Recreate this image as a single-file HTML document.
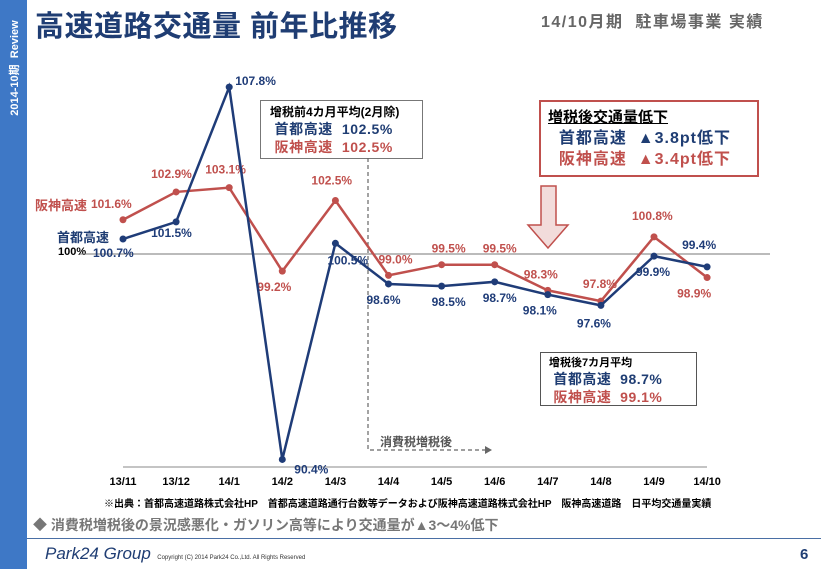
<!DOCTYPE html>
<html><head><meta charset="utf-8"><style>
body{margin:0;background:#fff}
#w{position:relative;width:821px;height:569px;overflow:hidden;font-family:"Liberation Sans","Noto Sans CJK JP",sans-serif;font-weight:bold}
.a{position:absolute;white-space:nowrap}
</style></head><body>
<div id="w">
<div class="a" style="left:0;top:0;width:27px;height:569px;background:#3e78c6"></div>
<div class="a" style="left:-38px;top:60px;width:104px;color:#fff;font-size:11px;transform:rotate(-90deg);text-align:center">2014-10期 &nbsp;Review</div>
<div class="a" style="left:35px;top:3px;font-size:29px;color:#1f3d73;letter-spacing:0.5px">高速道路交通量 前年比推移</div>
<div class="a" style="left:541px;top:8px;font-size:16px;color:#666;letter-spacing:1.5px">14/10月期 &nbsp;駐車場事業 実績</div>
<div class="a" style="left:27px;top:538px;width:794px;height:1px;background:#4a6fa5"></div>
<div class="a" style="left:45px;top:544px;font-size:17px;font-style:italic;font-weight:normal;color:#1f3d73">Park24 Group <span style="font-size:6px;font-style:normal;color:#333">&nbsp;Copyright (C) 2014 Park24 Co.,Ltd. All Rights Reserved</span></div>
<div class="a" style="left:800px;top:546px;font-size:15px;color:#1f3d73">6</div>
<div class="a" style="left:104px;top:495px;font-size:10px;color:#000">※出典：首都高速道路株式会社HP　首都高速道路通行台数等データおよび阪神高速道路株式会社HP　阪神高速道路　日平均交通量実績</div>
<div class="a" style="left:33px;top:515px;font-size:14px;color:#777">◆ 消費税増税後の景況感悪化・ガソリン高等により交通量が▲3～4%低下</div>
<div class="a" style="left:35px;top:195px;font-size:13px;color:#c0504d">阪神高速</div>
<div class="a" style="left:57px;top:227px;font-size:13px;color:#1f3d73">首都高速</div>
<div class="a" style="left:58px;top:246px;font-size:11px;color:#000">100%</div>
<div class="a" style="left:260px;top:100px;width:163px;height:59px;border:1px solid #777;background:#fff;font-size:12px;padding:3px 0 0 9px;box-sizing:border-box;line-height:17px">增税前4カ月平均(2月除)<br><span style="color:#1f3d73;font-size:14px;letter-spacing:0.6px">&nbsp;首都高速 &nbsp;102.5%</span><br><span style="color:#c0504d;font-size:14px;letter-spacing:0.6px">&nbsp;阪神高速 &nbsp;102.5%</span></div>
<div class="a" style="left:539px;top:100px;width:220px;height:77px;border:2.5px solid #c0504d;box-sizing:border-box;padding:5px 0 0 7px;font-size:15px;line-height:21px"><span style="text-decoration:underline">増税後交通量低下</span><br><span style="color:#1f3d73;font-size:16px;letter-spacing:1px">&nbsp;&nbsp;首都高速 &nbsp;▲3.8pt低下</span><br><span style="color:#c0504d;font-size:16px;letter-spacing:1px">&nbsp;&nbsp;阪神高速 &nbsp;▲3.4pt低下</span></div>
<div class="a" style="left:540px;top:352px;width:157px;height:54px;border:1px solid #555;background:#fff;font-size:11px;padding:2px 0 0 8px;box-sizing:border-box;line-height:16px">增税後7カ月平均<br><span style="color:#1f3d73;font-size:14px;letter-spacing:0.5px">&nbsp;首都高速 &nbsp;98.7%</span><br><span style="color:#c0504d;font-size:14px;letter-spacing:0.5px">&nbsp;阪神高速 &nbsp;99.1%</span></div>
<div class="a" style="left:380px;top:433px;font-size:12px;color:#555">消費税増税後</div>
<svg class="a" style="left:0;top:0" width="821" height="569" id="chart"></svg>
</div>
<script>
const categories=["13/11","13/12","14/1","14/2","14/3","14/4","14/5","14/6","14/7","14/8","14/9","14/10"];
const shuto=[100.7,101.5,107.8,90.4,100.5,98.6,98.5,98.7,98.1,97.6,99.9,99.4];
const hanshin=[101.6,102.9,103.1,99.2,102.5,99.0,99.5,99.5,98.3,97.8,100.8,98.9];
const shutoLabelOffsets=[[-30,18],[-25,15],[6,-2],[12,14],[-8,21],[-22,20],[-10,20],[-12,20],[-25,20],[-24,22],[-18,20],[-25,-18]];
const hanshinLabelOffsets=[[-32,-12],[-25,-14],[-24,-14],[-25,20],[-24,-16],[-10,-12],[-10,-12],[-12,-12],[-24,-12],[-18,-13],[-22,-17],[-30,20]];
const svg=document.getElementById('chart');const NS='http://www.w3.org/2000/svg';
const x=i=>123+i*53.1, y=v=>254-(v-100)*21.4;
function mk(t,a){const e=document.createElementNS(NS,t);for(const k in a)e.setAttribute(k,a[k]);svg.appendChild(e);return e;}
let e;
e=mk('line',{x1:80,x2:770,y1:y(100),y2:y(100),stroke:'#777','stroke-width':1});


e=mk('line',{x1:123,x2:707,y1:467,y2:467,stroke:'#888','stroke-width':1});


e=mk('polyline',{points:'368,158 368,450 485,450',fill:'none',stroke:'#666','stroke-width':1.2,'stroke-dasharray':'4,3'});


e=mk('polygon',{points:'485,446 492,450 485,454',fill:'#666'});


e=mk('polygon',{points:'541,186 556,186 556,225 568,225 548,248 528,225 541,225',fill:'#f2dcdb',stroke:'#c0504d','stroke-width':1.5});


categories.forEach((c,i)=>{const t=mk('text',{x:x(i),y:485,'text-anchor':'middle','font-size':11,'font-weight':'bold',fill:'#000'});t.textContent=c;

});
function series(vals,col,name,offs){
const l=mk('polyline',{points:vals.map((v,i)=>x(i)+','+y(v)).join(' '),fill:'none',stroke:col,'stroke-width':2.5});


vals.forEach((v,i)=>{const p=mk('circle',{cx:x(i),cy:y(v),r:3.5,fill:col});


const t=mk('text',{x:x(i)+offs[i][0],y:y(v)+offs[i][1],'font-size':12,'font-weight':'bold',fill:col});t.textContent=v.toFixed(1)+'%';

});}
series(hanshin,'#c0504d','hanshin',hanshinLabelOffsets);
series(shuto,'#1f3c78','shuto',shutoLabelOffsets);
</script>
</body></html>
